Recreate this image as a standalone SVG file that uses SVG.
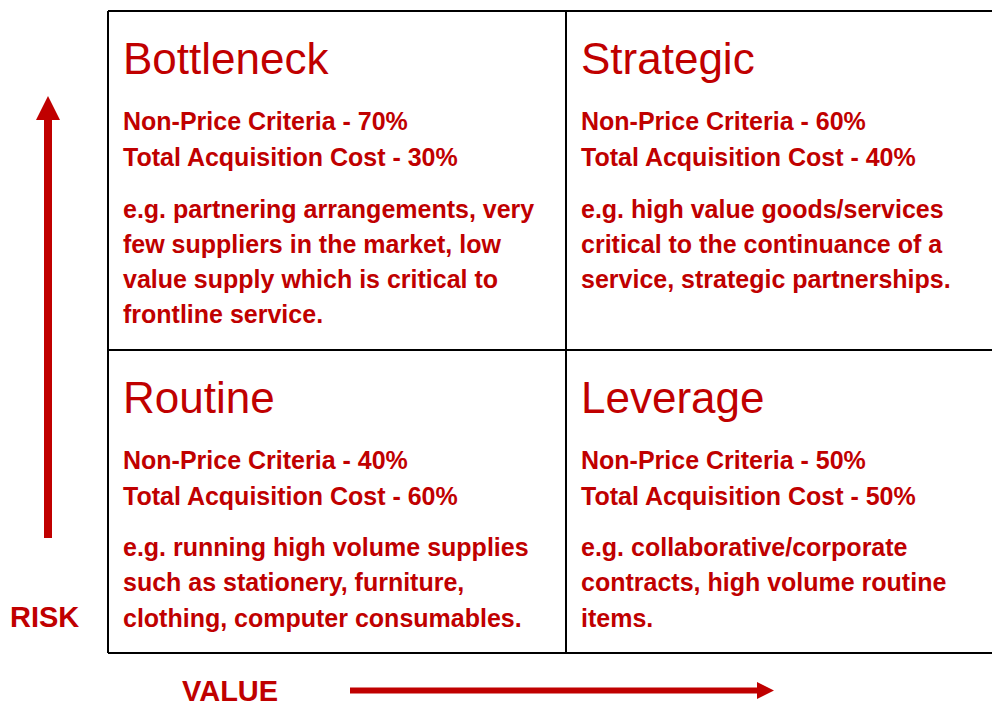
<svg xmlns="http://www.w3.org/2000/svg" width="992" height="707" viewBox="0 0 992 707">
<style>
.grid{stroke:#000;stroke-width:2;fill:none}
.t{font-family:"Liberation Sans",Arial,sans-serif;fill:#C00000}
.title{font-size:44px}
.b{font-size:25px;font-weight:bold}
.ax{font-size:29px;font-weight:bold}
.arr{fill:#C00000}
</style>
<rect width="992" height="707" fill="#fff"/>
<g id="grid">
<path class="grid" d="M108 11H993M108 350H993M108 653H993M108 11V653M566 11V653"/>
</g>
<g id="bottleneck">
<text class="t title" x="123" y="74">Bottleneck</text>
<text class="t b" x="123" y="130">Non-Price Criteria - 70%</text>
<text class="t b" x="123" y="166">Total Acquisition Cost - 30%</text>
<text class="t b" x="123" y="218">e.g. partnering arrangements, very</text>
<text class="t b" x="123" y="253">few suppliers in the market, low</text>
<text class="t b" x="123" y="288">value supply which is critical to</text>
<text class="t b" x="123" y="323">frontline service.</text>
</g>
<g id="strategic">
<text class="t title" x="581" y="74">Strategic</text>
<text class="t b" x="581" y="130">Non-Price Criteria - 60%</text>
<text class="t b" x="581" y="166">Total Acquisition Cost - 40%</text>
<text class="t b" x="581" y="218">e.g. high value goods/services</text>
<text class="t b" x="581" y="253">critical to the continuance of a</text>
<text class="t b" x="581" y="288">service, strategic partnerships.</text>
</g>
<g id="routine">
<text class="t title" x="123" y="413">Routine</text>
<text class="t b" x="123" y="469">Non-Price Criteria - 40%</text>
<text class="t b" x="123" y="505">Total Acquisition Cost - 60%</text>
<text class="t b" x="123" y="556">e.g. running high volume supplies</text>
<text class="t b" x="123" y="591">such as stationery, furniture,</text>
<text class="t b" x="123" y="627">clothing, computer consumables.</text>
</g>
<g id="leverage">
<text class="t title" x="581" y="413">Leverage</text>
<text class="t b" x="581" y="469">Non-Price Criteria - 50%</text>
<text class="t b" x="581" y="505">Total Acquisition Cost - 50%</text>
<text class="t b" x="581" y="556">e.g. collaborative/corporate</text>
<text class="t b" x="581" y="591">contracts, high volume routine</text>
<text class="t b" x="581" y="627">items.</text>
</g>
<g id="risk-label">
<text class="t ax" x="10" y="627">RISK</text>
</g>
<g id="value-label">
<text class="t ax" x="182" y="701">VALUE</text>
</g>
<g id="connectors">
<path class="arr" d="M48 96L60 120H52V538H44V120H36Z"/>
<path class="arr" d="M774 690.5L757 682V687.5H350V693.5H757V699Z"/>
</g>
</svg>
